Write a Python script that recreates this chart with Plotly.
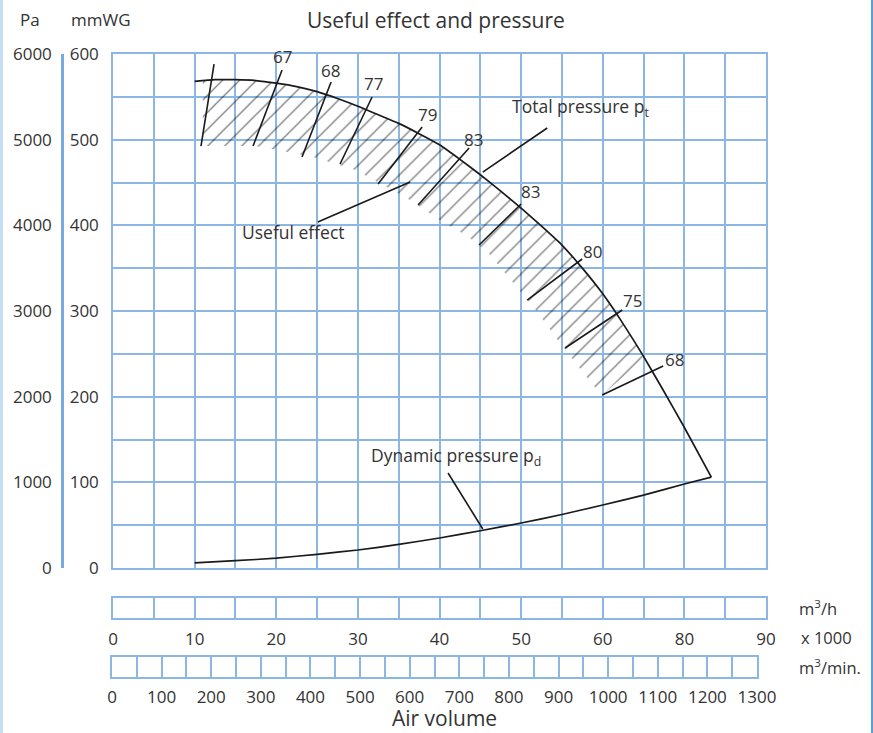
import plotly.graph_objects as go

W, H = 873, 733
FONT = "Open Sans"
TXT = "#333333"
GRID = "#8cb6e4"

# ---------------- data ----------------
# x in the chart's air-volume grid units (one cell = 5), y in mmWG
pt_x = [10, 12.5, 15, 17.5, 20, 22.5, 25, 27.5, 30, 32.5, 35, 37.5, 40, 42.5, 45, 47.5, 50,
        52.5, 55, 57.5, 60, 62.5, 65, 67.5, 70, 73.3]
pt_y = [568, 570, 570, 569, 566, 562, 556, 548, 539, 529, 519, 507, 494, 477, 459, 440, 420,
        399, 377, 350, 320, 285, 247, 206, 164, 106]

pd_x = [10, 15, 20, 25, 30, 35, 40, 45, 50, 55, 60, 65, 70, 73.3]
pd_y = [6, 8.5, 11.5, 16, 21, 27.5, 35, 43.5, 52.5, 62.5, 73.5, 85, 98, 106]

# hatched "useful effect" band: lower edge, then upper edge (on the pt curve)
band_low_x = [11.0, 17.4, 20.8, 24.5, 29.7, 36.0, 40.4, 43.4, 46.0, 48.4, 52.0, 54.2, 56.4, 58.8, 59.9, 65.2]
band_low_y = [492.6, 492.6, 486.8, 479.8, 464.6, 431.9, 403.9, 387.5, 367.7, 339.7, 298.8, 269.6, 242.8, 213.6, 201.9, 245.1]
band_top_x = [65.2, 62.5, 60, 57.5, 55, 52.5, 50, 47.5, 45, 42.5, 40, 37.5, 35, 32.5, 30, 27.5, 25, 22.5, 20, 17.5, 15, 12.5, 11.0]
band_top_y = [245, 285, 320, 350, 377, 399, 420, 440, 459, 477, 494, 507, 519, 529, 539, 548, 556, 562, 566, 569, 570, 570, 569]

# efficiency marker lines (start -> end) and labels
eff_x0 = [10.78, 17.16, 23.16, 27.82, 32.48, 37.38, 44.85, 50.74, 55.39, 59.93]
eff_y0 = [492.6, 492.6, 479.8, 471.6, 448.2, 423.7, 377.0, 312.8, 256.8, 201.9]
eff_x1 = [12.38, 20.71, 26.72, 31.74, 37.87, 43.63, 50.00, 57.48, 62.38, 67.40]
eff_y1 = [588.3, 581.3, 567.3, 549.8, 514.8, 490.3, 424.9, 360.7, 301.2, 235.8]
eff_labels = ["", "67", "68", "77", "79", "83", "83", "80", "75", "68"]
eff_lab_x = [12.4, 20.8, 26.7, 31.9, 38.5, 44.2, 51.2, 58.7, 63.7, 68.75]
eff_lab_y = [588, 597, 581, 565, 529, 500, 439, 370, 312, 243]

# callouts
call_text = ["Useful effect", "Total pressure p<sub>t</sub>", "Dynamic pressure p<sub>d</sub>"]
call_x0 = [25.1, 45.3, 45.3]
call_y0 = [403.9, 462.2, 45.5]
call_x1 = [36.4, 53.2, 41.05]
call_y1 = [450.6, 513.6, 110.9]
call_lab_x = [22.1, 57.3, 42.0]
call_lab_y = [392.2, 537.0, 129.6]

# axes
mmwg_ticks = list(range(0, 601, 50))
mmwg_labels = [str(v) if v % 100 == 0 else "" for v in mmwg_ticks]
pa_ticks = [0, 1000, 2000, 3000, 4000, 5000, 6000]
pa_labels = ["0", "1000", "2000", "3000", "4000", "5000", "6000"]
m3h_ticks = list(range(0, 81, 5))
m3h_labels = ["0", "", "10", "", "20", "", "30", "", "40", "", "50", "", "60", "", "80", "", "90"]
m3min_ticks = list(range(0, 1301, 50))
m3min_labels = [str(v) if v % 100 == 0 else "" for v in m3min_ticks]

# ---------------- geometry helpers ----------------
def px(x):
    return x / W

def py(y):
    return 1 - y / H

fig = go.Figure()

# hatched band
fig.add_trace(go.Scatter(
    x=band_low_x + band_top_x, y=band_low_y + band_top_y,
    mode="lines", line=dict(width=0), fill="toself",
    fillcolor="rgba(0,0,0,0)",
    fillpattern=dict(shape="/", fgcolor="#000000", bgcolor="rgba(255,255,255,0)",
                     size=12, solidity=0.11, fillmode="overlay"),
    hoverinfo="skip", showlegend=False, xaxis="x", yaxis="y"))

# total pressure
fig.add_trace(go.Scatter(x=pt_x, y=pt_y, mode="lines",
                         line=dict(color="#1a1a1a", width=1.7, shape="spline", smoothing=0.5),
                         showlegend=False, xaxis="x", yaxis="y"))
# dynamic pressure
fig.add_trace(go.Scatter(x=pd_x, y=pd_y, mode="lines",
                         line=dict(color="#1a1a1a", width=1.7, shape="spline", smoothing=0.5),
                         showlegend=False, xaxis="x", yaxis="y"))

# efficiency marker lines
ex, ey = [], []
for a, b, c, d in zip(eff_x0, eff_y0, eff_x1, eff_y1):
    ex += [a, c, None]
    ey += [b, d, None]
fig.add_trace(go.Scatter(x=ex, y=ey, mode="lines", line=dict(color="#1a1a1a", width=1.6),
                         showlegend=False, xaxis="x", yaxis="y"))
# callout lines
cx, cy = [], []
for a, b, c, d in zip(call_x0, call_y0, call_x1, call_y1):
    cx += [a, c, None]
    cy += [b, d, None]
fig.add_trace(go.Scatter(x=cx, y=cy, mode="lines", line=dict(color="#1a1a1a", width=1.6),
                         showlegend=False, xaxis="x", yaxis="y"))

# dummy traces for Pa axis and the two strips
fig.add_trace(go.Scatter(x=[None], y=[None], xaxis="x", yaxis="y2", showlegend=False))
fig.add_trace(go.Scatter(x=[None], y=[None], xaxis="x2", yaxis="y3", showlegend=False))
fig.add_trace(go.Scatter(x=[None], y=[None], xaxis="x3", yaxis="y4", showlegend=False))

annotations = []
for t, x, y in zip(eff_labels, eff_lab_x, eff_lab_y):
    if t:
        annotations.append(dict(x=x, y=y, xref="x", yref="y", text=t, showarrow=False,
                                font=dict(size=17, color=TXT, family=FONT)))
for t, x, y in zip(call_text, call_lab_x, call_lab_y):
    annotations.append(dict(x=x, y=y, xref="x", yref="y", text=t, showarrow=False,
                            font=dict(size=17.5, color=TXT, family=FONT)))

def paper_text(t, x, y, size=16, xanchor="center"):
    annotations.append(dict(x=px(x), y=py(y), xref="paper", yref="paper", text=t, showarrow=False,
                            xanchor=xanchor, yanchor="middle",
                            font=dict(size=size, color=TXT, family=FONT)))

paper_text("Useful effect and pressure", 436, 20, size=21)
paper_text("Pa", 30, 20, size=17)
paper_text("mmWG", 101, 20, size=17)
paper_text("m<sup>3</sup>/h", 797, 608, size=16.5, xanchor="left")
paper_text("x 1000", 799, 637, size=16.5, xanchor="left")
paper_text("m<sup>3</sup>/min.", 797, 667, size=16.5, xanchor="left")
paper_text("Air volume", 445, 718, size=21)

main_xdom = [px(113), px(766)]
axis_common = dict(showline=True, linecolor=GRID, linewidth=1.5, mirror=True,
                   showgrid=True, gridcolor=GRID, gridwidth=1.5, zeroline=False,
                   ticks="", fixedrange=True, automargin=False)

fig.update_layout(
    template="none",
    width=W, height=H, margin=dict(l=0, r=0, t=0, b=0, pad=0, autoexpand=False),
    paper_bgcolor="white", plot_bgcolor="white",
    font=dict(family=FONT, color=TXT, size=17),
    showlegend=False,
    xaxis=dict(domain=main_xdom, range=[0, 80], tickvals=m3h_ticks, showticklabels=False,
               anchor="y", **axis_common),
    yaxis=dict(domain=[py(568), py(54)], range=[0, 600], tickvals=mmwg_ticks, ticktext=mmwg_labels,
               ticklabelstandoff=9, anchor="x", tickfont=dict(size=17), **axis_common),
    yaxis2=dict(domain=[py(568), py(54)], range=[0, 6000], tickvals=pa_ticks, ticktext=pa_labels,
                anchor="free", overlaying="y", side="left", position=px(62),
                showline=True, linecolor="#7aaade", linewidth=2.5, showgrid=False, zeroline=False,
                ticks="", ticklabelstandoff=6, tickfont=dict(size=17), fixedrange=True,
                automargin=False),
    xaxis2=dict(domain=main_xdom, range=[0, 80], tickvals=m3h_ticks, ticktext=m3h_labels,
                anchor="y3", ticklabelstandoff=5, tickfont=dict(size=17), **axis_common),
    yaxis3=dict(domain=[py(618), py(598)], range=[0, 1], showticklabels=False, anchor="x2",
                **{**axis_common, "showgrid": False}),
    xaxis3=dict(domain=[px(112), px(757)], range=[0, 1300], tickvals=m3min_ticks, ticktext=m3min_labels,
                anchor="y4", ticklabelstandoff=4, tickfont=dict(size=17), **axis_common),
    yaxis4=dict(domain=[py(677), py(657)], range=[0, 1], showticklabels=False, anchor="x3",
                **{**axis_common, "showgrid": False}),
    annotations=annotations,
    shapes=[
        dict(type="line", xref="paper", yref="paper", x0=px(1.5), x1=px(1.5), y0=0, y1=1,
             line=dict(color="#c5def5", width=3)),
        dict(type="line", xref="paper", yref="paper", x0=px(872), x1=px(872), y0=0, y1=1,
             line=dict(color="#1f7fd0", width=1.5)),
    ],
)

fig.write_html("out.html", config={"displayModeBar": False},
               post_script="document.body.style.margin='0px';document.body.style.overflow='hidden';")
